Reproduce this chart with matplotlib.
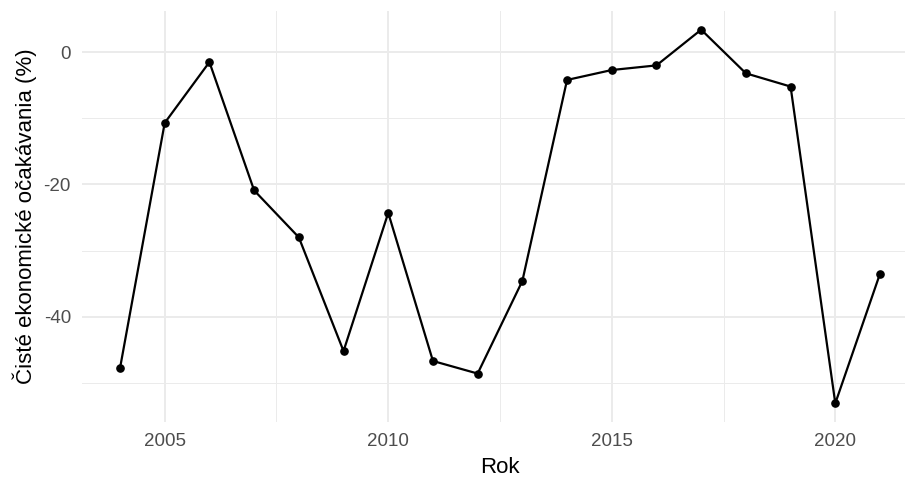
import matplotlib
matplotlib.use("Agg")
import matplotlib.pyplot as plt
from matplotlib.ticker import MultipleLocator

years = [2004, 2005, 2006, 2007, 2008, 2009, 2010, 2011, 2012, 2013,
         2014, 2015, 2016, 2017, 2018, 2019, 2020, 2021]
values = [-47.8, -10.7, -1.5, -20.9, -28.0, -45.2, -24.3, -46.7, -48.6, -34.6,
          -4.2, -2.7, -2.0, 3.4, -3.2, -5.2, -53.1, -33.5]
x_label = "Rok"
y_label = "Čisté ekonomické očakávania (%)"

plt.rcParams['font.family'] = ['Liberation Sans', 'DejaVu Sans']
plt.rcParams['axes.unicode_minus'] = False

W, H = 905, 479
fig = plt.figure(figsize=(W / 100, H / 100), dpi=100)
left, right, top, bottom = 82, 918, 11, 422
ax = fig.add_axes([left / W, 1 - bottom / H, (right - left) / W, (bottom - top) / H])

ax.plot(years, values, color='black', lw=1.6, marker='o', ms=5.2, zorder=3)

xmin, xmax = min(years), max(years)
ymin, ymax = min(values), max(values)
ax.set_xlim(xmin - 0.05 * (xmax - xmin), xmax + 0.05 * (xmax - xmin))
ax.set_ylim(ymin - 0.05 * (ymax - ymin), ymax + 0.05 * (ymax - ymin))

ax.xaxis.set_major_locator(MultipleLocator(5))
ax.xaxis.set_minor_locator(MultipleLocator(2.5))
ax.yaxis.set_major_locator(MultipleLocator(20))
ax.yaxis.set_minor_locator(MultipleLocator(10))

ax.grid(which='major', color='#EBEBEB', lw=1.4, zorder=0)
ax.grid(which='minor', color='#EBEBEB', lw=0.7, zorder=0)
ax.set_axisbelow(True)
for s in ax.spines.values():
    s.set_visible(False)
ax.tick_params(which='both', length=0)
ax.tick_params(axis='both', labelsize=13.5, labelcolor='#4D4D4D', pad=8)

ax.set_xlabel(x_label, fontsize=16, color='black', labelpad=5)
ax.set_ylabel(y_label, fontsize=16, color='black', labelpad=5)

fig.savefig("out.png", dpi=100, facecolor='white')
